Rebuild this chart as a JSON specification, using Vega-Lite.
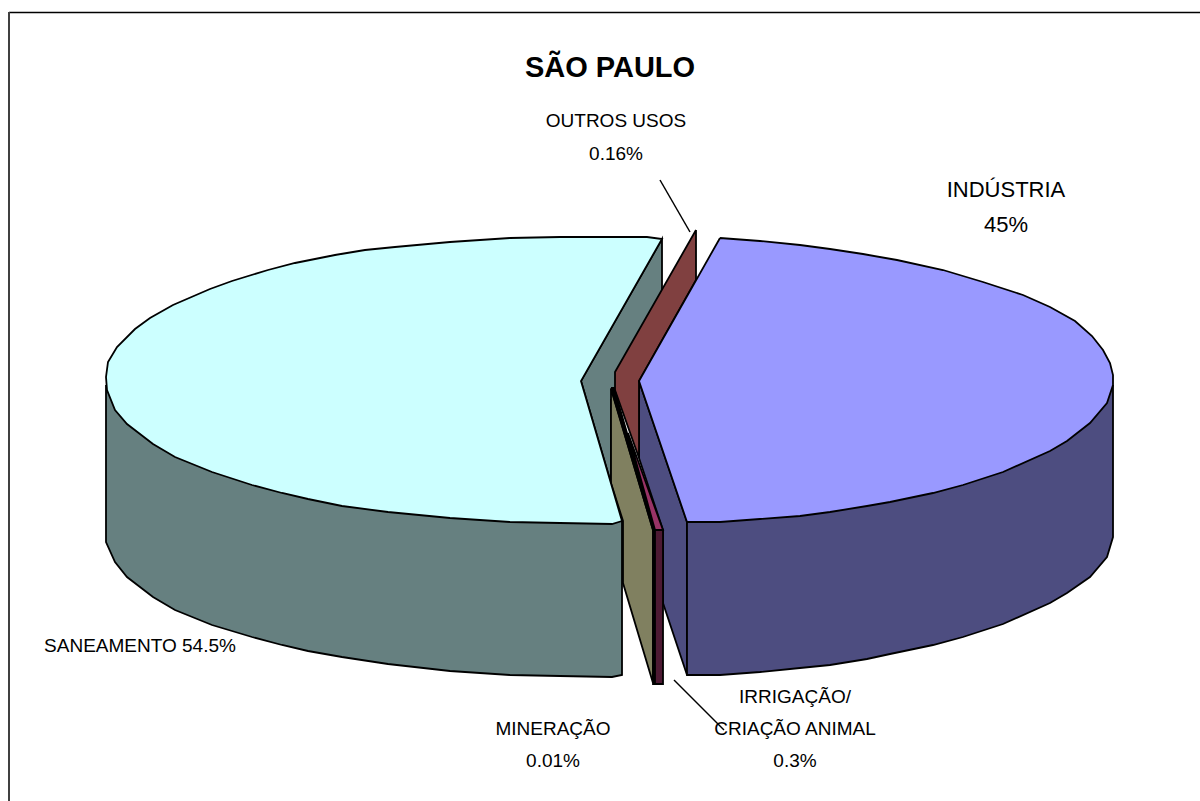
{"$schema":"https://vega.github.io/schema/vega-lite/v6.json","width":1200,"height":801,"autosize":{"type":"fit","contains":"padding"},"padding":0,"background":"white","view":{"stroke":null},
"datasets":{
"shapes":[
{"s":"san_wall","i":0,"x":581,"y":381},{"s":"san_wall","i":1,"x":662,"y":239},{"s":"san_wall","i":2,"x":662,"y":400},{"s":"san_wall","i":3,"x":611,"y":400},{"s":"san_wall","i":4,"x":611,"y":483},{"s":"san_wall","i":5,"x":581,"y":381},
{"s":"san_side","i":0,"x":106,"y":385},{"s":"san_side","i":1,"x":106,"y":542},{"s":"san_side","i":2,"x":115,"y":562},{"s":"san_side","i":3,"x":127,"y":577},{"s":"san_side","i":4,"x":153,"y":597},{"s":"san_side","i":5,"x":175,"y":610},{"s":"san_side","i":6,"x":212,"y":625},{"s":"san_side","i":7,"x":252,"y":637},{"s":"san_side","i":8,"x":282,"y":645},{"s":"san_side","i":9,"x":308,"y":651},{"s":"san_side","i":10,"x":342,"y":657},{"s":"san_side","i":11,"x":388,"y":664},{"s":"san_side","i":12,"x":450,"y":671},{"s":"san_side","i":13,"x":510,"y":675},{"s":"san_side","i":14,"x":560,"y":676},{"s":"san_side","i":15,"x":612,"y":677},{"s":"san_side","i":16,"x":622,"y":675},{"s":"san_side","i":17,"x":622,"y":521},{"s":"san_side","i":18,"x":400,"y":500},{"s":"san_side","i":19,"x":106,"y":385},
{"s":"ind_wall","i":0,"x":639,"y":381},{"s":"ind_wall","i":1,"x":687,"y":522},{"s":"ind_wall","i":2,"x":687,"y":675},{"s":"ind_wall","i":3,"x":663,"y":603},{"s":"ind_wall","i":4,"x":663,"y":530},{"s":"ind_wall","i":5,"x":639,"y":458},{"s":"ind_wall","i":6,"x":639,"y":381},
{"s":"ind_side","i":0,"x":1113,"y":385},{"s":"ind_side","i":1,"x":1113,"y":537},{"s":"ind_side","i":2,"x":1107,"y":557},{"s":"ind_side","i":3,"x":1090,"y":577},{"s":"ind_side","i":4,"x":1067,"y":593},{"s":"ind_side","i":5,"x":1050,"y":603},{"s":"ind_side","i":6,"x":1003,"y":624},{"s":"ind_side","i":7,"x":963,"y":637},{"s":"ind_side","i":8,"x":933,"y":645},{"s":"ind_side","i":9,"x":890,"y":654},{"s":"ind_side","i":10,"x":867,"y":659},{"s":"ind_side","i":11,"x":830,"y":665},{"s":"ind_side","i":12,"x":800,"y":668},{"s":"ind_side","i":13,"x":760,"y":672},{"s":"ind_side","i":14,"x":720,"y":675},{"s":"ind_side","i":15,"x":687,"y":675},{"s":"ind_side","i":16,"x":687,"y":522},{"s":"ind_side","i":17,"x":900,"y":490},{"s":"ind_side","i":18,"x":1113,"y":385},
{"s":"brown","i":0,"x":696,"y":230},{"s":"brown","i":1,"x":696,"y":280},{"s":"brown","i":2,"x":639,"y":381},{"s":"brown","i":3,"x":639,"y":458},{"s":"brown","i":4,"x":615,"y":390},{"s":"brown","i":5,"x":615,"y":372},{"s":"brown","i":6,"x":696,"y":230},
{"s":"olive","i":0,"x":611,"y":389},{"s":"olive","i":1,"x":653,"y":530},{"s":"olive","i":2,"x":653,"y":683},{"s":"olive","i":3,"x":623,"y":583},{"s":"olive","i":4,"x":623,"y":521},{"s":"olive","i":5,"x":611,"y":483},{"s":"olive","i":6,"x":611,"y":389},
{"s":"min_edge","i":0,"x":611,"y":388},{"s":"min_edge","i":1,"x":614,"y":388},{"s":"min_edge","i":2,"x":655,"y":530},{"s":"min_edge","i":3,"x":655,"y":684},{"s":"min_edge","i":4,"x":653,"y":684},{"s":"min_edge","i":5,"x":653,"y":530},{"s":"min_edge","i":6,"x":611,"y":388},
{"s":"irr_side","i":0,"x":655,"y":530},{"s":"irr_side","i":1,"x":663,"y":530},{"s":"irr_side","i":2,"x":663,"y":684},{"s":"irr_side","i":3,"x":655,"y":684},{"s":"irr_side","i":4,"x":655,"y":530},
{"s":"irr_top","i":0,"x":628,"y":433},{"s":"irr_top","i":1,"x":663,"y":530},{"s":"irr_top","i":2,"x":655,"y":530},{"s":"irr_top","i":3,"x":628,"y":433},
{"s":"san_top","i":0,"x":106,"y":377},{"s":"san_top","i":1,"x":108,"y":362},{"s":"san_top","i":2,"x":117,"y":347},{"s":"san_top","i":3,"x":135,"y":329},{"s":"san_top","i":4,"x":150,"y":318},{"s":"san_top","i":5,"x":173,"y":305},{"s":"san_top","i":6,"x":210,"y":289},{"s":"san_top","i":7,"x":232,"y":281},{"s":"san_top","i":8,"x":268,"y":270},{"s":"san_top","i":9,"x":295,"y":263},{"s":"san_top","i":10,"x":335,"y":255},{"s":"san_top","i":11,"x":365,"y":250},{"s":"san_top","i":12,"x":395,"y":247},{"s":"san_top","i":13,"x":450,"y":242},{"s":"san_top","i":14,"x":510,"y":238},{"s":"san_top","i":15,"x":560,"y":237},{"s":"san_top","i":16,"x":647,"y":237},{"s":"san_top","i":17,"x":662,"y":239},{"s":"san_top","i":18,"x":581,"y":381},{"s":"san_top","i":19,"x":622,"y":521},{"s":"san_top","i":20,"x":612,"y":524},{"s":"san_top","i":21,"x":560,"y":523},{"s":"san_top","i":22,"x":510,"y":522},{"s":"san_top","i":23,"x":450,"y":518},{"s":"san_top","i":24,"x":388,"y":512},{"s":"san_top","i":25,"x":342,"y":506},{"s":"san_top","i":26,"x":308,"y":499},{"s":"san_top","i":27,"x":282,"y":493},{"s":"san_top","i":28,"x":252,"y":485},{"s":"san_top","i":29,"x":212,"y":472},{"s":"san_top","i":30,"x":175,"y":457},{"s":"san_top","i":31,"x":153,"y":444},{"s":"san_top","i":32,"x":127,"y":424},{"s":"san_top","i":33,"x":115,"y":410},{"s":"san_top","i":34,"x":107,"y":390},{"s":"san_top","i":35,"x":106,"y":377},
{"s":"ind_top","i":0,"x":720,"y":238},{"s":"ind_top","i":1,"x":760,"y":241},{"s":"ind_top","i":2,"x":800,"y":245},{"s":"ind_top","i":3,"x":830,"y":249},{"s":"ind_top","i":4,"x":863,"y":254},{"s":"ind_top","i":5,"x":897,"y":260},{"s":"ind_top","i":6,"x":943,"y":270},{"s":"ind_top","i":7,"x":983,"y":282},{"s":"ind_top","i":8,"x":1023,"y":295},{"s":"ind_top","i":9,"x":1050,"y":307},{"s":"ind_top","i":10,"x":1075,"y":321},{"s":"ind_top","i":11,"x":1092,"y":336},{"s":"ind_top","i":12,"x":1103,"y":350},{"s":"ind_top","i":13,"x":1110,"y":363},{"s":"ind_top","i":14,"x":1113,"y":375},{"s":"ind_top","i":15,"x":1113,"y":385},{"s":"ind_top","i":16,"x":1107,"y":403},{"s":"ind_top","i":17,"x":1090,"y":423},{"s":"ind_top","i":18,"x":1067,"y":441},{"s":"ind_top","i":19,"x":1050,"y":451},{"s":"ind_top","i":20,"x":1003,"y":472},{"s":"ind_top","i":21,"x":963,"y":485},{"s":"ind_top","i":22,"x":933,"y":493},{"s":"ind_top","i":23,"x":890,"y":502},{"s":"ind_top","i":24,"x":867,"y":506},{"s":"ind_top","i":25,"x":830,"y":512},{"s":"ind_top","i":26,"x":800,"y":516},{"s":"ind_top","i":27,"x":760,"y":519},{"s":"ind_top","i":28,"x":720,"y":522},{"s":"ind_top","i":29,"x":687,"y":522},{"s":"ind_top","i":30,"x":639,"y":381},{"s":"ind_top","i":31,"x":720,"y":238}
],
"lines":[
{"s":"outros","i":0,"x":660,"y":180},{"s":"outros","i":1,"x":690,"y":232},
{"s":"irr","i":0,"x":674,"y":680},{"s":"irr","i":1,"x":724,"y":730}
],
"frame":[{"s":"top","i":0,"x":9,"y":12.5},{"s":"top","i":1,"x":1200,"y":12.5}],
"frameLeft":[{"s":"left","i":0,"x":9,"y":12},{"s":"left","i":1,"x":9,"y":801}],
"labels":[
{"t":"SÃO PAULO","k":"title","x":610,"y":68},
{"t":"OUTROS USOS","k":"n","x":616,"y":121},{"t":"0.16%","k":"n","x":616,"y":154},
{"t":"INDÚSTRIA","k":"b","x":1006,"y":190},{"t":"45%","k":"b","x":1006,"y":225},
{"t":"SANEAMENTO 54.5%","k":"n","x":140,"y":646},
{"t":"MINERAÇÃO","k":"n","x":553,"y":729},{"t":"0.01%","k":"n","x":553,"y":761},
{"t":"IRRIGAÇÃO/","k":"n","x":795,"y":697},{"t":"CRIAÇÃO ANIMAL","k":"n","x":795,"y":729},{"t":"0.3%","k":"n","x":795,"y":761}
]},
"encoding":{
"x":{"field":"x","type":"quantitative","scale":{"domain":[0,1200],"nice":false,"zero":false},"axis":null},
"y":{"field":"y","type":"quantitative","scale":{"domain":[801,0],"nice":false,"zero":false},"axis":null}
},
"layer":[
{"data":{"name":"shapes"},"mark":{"type":"line","stroke":"black","strokeWidth":1.8,"strokeJoin":"miter"},
"encoding":{"detail":{"field":"s"},"order":{"field":"i","type":"quantitative"},
"fill":{"field":"s","type":"nominal","legend":null,"scale":{"domain":["san_wall","san_side","ind_wall","ind_side","brown","olive","min_edge","irr_side","irr_top","san_top","ind_top"],"range":["#668080","#668080","#4d4d80","#4d4d80","#804040","#808060","#000000","#4d1a33","#993366","#ccffff","#9999ff"]}}}},
{"data":{"name":"lines"},"mark":{"type":"line","stroke":"black","strokeWidth":1.5},"encoding":{"detail":{"field":"s"},"order":{"field":"i","type":"quantitative"}}},
{"data":{"name":"frame"},"mark":{"type":"line","stroke":"black","strokeWidth":1.5,"clip":true},"encoding":{"order":{"field":"i","type":"quantitative"}}},
{"data":{"name":"frameLeft"},"mark":{"type":"line","stroke":"#404040","strokeWidth":2,"clip":true},"encoding":{"order":{"field":"i","type":"quantitative"}}},
{"data":{"name":"labels"},"transform":[{"filter":"datum.k==='title'"}],"mark":{"type":"text","font":"Liberation Sans","fontWeight":"bold","fontSize":29,"color":"black","align":"center","baseline":"middle"},"encoding":{"text":{"field":"t"}}},
{"data":{"name":"labels"},"transform":[{"filter":"datum.k==='b'"}],"mark":{"type":"text","font":"Liberation Sans","fontSize":22,"color":"black","align":"center","baseline":"middle"},"encoding":{"text":{"field":"t"}}},
{"data":{"name":"labels"},"transform":[{"filter":"datum.k==='n'"}],"mark":{"type":"text","font":"Liberation Sans","fontSize":19,"color":"black","align":"center","baseline":"middle"},"encoding":{"text":{"field":"t"}}}
]}
